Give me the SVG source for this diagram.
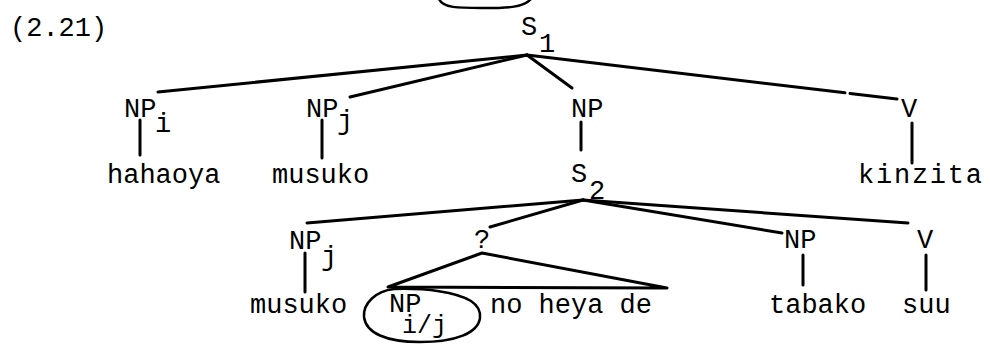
<svg xmlns="http://www.w3.org/2000/svg" width="990" height="345" viewBox="0 0 990 345">
  <style>
    .t { font-family: "Liberation Mono", "DejaVu Sans Mono", monospace; font-size: 27px; fill: #000; }
    .s { font-family: "Liberation Mono", "DejaVu Sans Mono", monospace; font-size: 25px; fill: #000; }
    .e { stroke: #000; stroke-width: 3; stroke-linecap: round; fill: none; }
    .o { stroke: #000; stroke-width: 2.5; stroke-linecap: round; fill: none; }
  </style>
  <rect width="990" height="345" fill="#fff"/>

  <text class="t" x="10" y="36">(2.21)</text>

  <!-- hand-drawn loop above the root -->
  <path class="o" d="M 439 -1 C 443 8, 458 8, 482 8 C 506 8, 523 8, 531 -1"/>

  <g id="connectors">
    <!-- S1 branches -->
    <line class="e" x1="527" y1="55" x2="158" y2="92"/>
    <line class="e" x1="527" y1="55" x2="350" y2="97"/>
    <line class="e" x1="527" y1="55" x2="572" y2="88"/>
    <line class="e" x1="527" y1="55" x2="845" y2="92.8"/>
    <line class="e" x1="850" y1="93.4" x2="897" y2="99"/>
    <line class="e" x1="140" y1="120" x2="140" y2="155"/>
    <line class="e" x1="322" y1="120" x2="322" y2="158"/>
    <line class="e" x1="581" y1="122" x2="581" y2="150"/>
    <line class="e" x1="912" y1="123" x2="912" y2="163"/>
    <!-- S2 branches -->
    <line class="e" x1="583" y1="200" x2="307" y2="223"/>
    <line class="e" x1="583" y1="200" x2="490" y2="227"/>
    <line class="e" x1="583" y1="200" x2="782" y2="233"/>
    <line class="e" x1="583" y1="200" x2="908" y2="223"/>
    <line class="e" x1="305" y1="253" x2="305" y2="292"/>
    <line class="e" x1="803" y1="255" x2="803" y2="285"/>
    <line class="e" x1="926" y1="255" x2="926" y2="290"/>
    <!-- triangle over the phrase -->
    <path class="e" d="M 388 287 L 482 253 L 667 288 Z" stroke-linejoin="round"/>
  </g>

  <g id="S1">
    <text class="t" x="521" y="35">S</text>
    <text class="t" x="539" y="52">1</text>
  </g>
  <g id="NPi">
    <text class="t" x="124" y="117">NP</text>
    <text class="t" x="155" y="132">i</text>
  </g>
  <g id="NPj">
    <text class="t" x="306" y="117">NP</text>
    <text class="t" x="337" y="129">j</text>
  </g>
  <g id="NP">
    <text class="t" x="571" y="117">NP</text>
  </g>
  <g id="V1">
    <text class="t" x="901" y="117">V</text>
  </g>
  <g id="hahaoya"><text class="t" x="107" y="183">hahaoya</text></g>
  <g id="musuko1"><text class="t" x="272" y="183">musuko</text></g>
  <g id="kinzita"><text class="t" x="858" y="183" textLength="124">kinzita</text></g>
  <g id="S2">
    <text class="t" x="571" y="182">S</text>
    <text class="t" x="589" y="199">2</text>
  </g>

  <g id="NPj2">
    <text class="t" x="289" y="249">NP</text>
    <text class="t" x="321" y="265">j</text>
  </g>
  <g id="Q"><text class="t" x="474" y="248">?</text></g>
  <g id="NP2"><text class="t" x="784" y="248">NP</text></g>
  <g id="V2"><text class="t" x="917" y="248">V</text></g>

  <g id="musuko2"><text class="t" x="250" y="313">musuko</text></g>
  <g id="phrase">
    <path class="o" d="M 394 289 C 376 291, 363 303, 364 317 C 366 333, 386 342, 420 342 C 456 342, 478 333, 480 318 C 481 310, 477 305, 471 301 C 456 292, 426 288, 394 289"/>
    <text class="t" x="389" y="312">NP</text>
    <text class="s" x="402" y="333">i/j</text>
    <text class="t" x="490" y="313">no heya de</text>
  </g>
  <g id="tabako"><text class="t" x="769" y="313">tabako</text></g>
  <g id="suu"><text class="t" x="902" y="313">suu</text></g>
</svg>
